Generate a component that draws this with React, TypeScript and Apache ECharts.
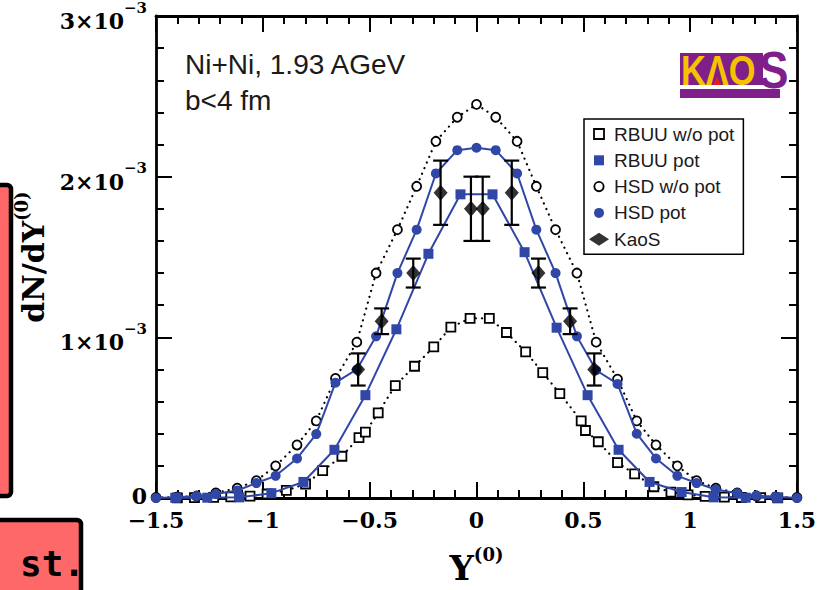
import React, { useEffect, useRef } from 'react';
import * as echarts from 'echarts';

// dN/dY values are in units of 1e-3
const hsdX = [-1.50, -1.40, -1.31, -1.22, -1.12, -1.03, -0.94, -0.84, -0.75, -0.66, -0.56, -0.47, -0.37, -0.28, -0.19, -0.09, 0.00,
  0.09, 0.19, 0.28, 0.37, 0.47, 0.56, 0.66, 0.75, 0.84, 0.94, 1.03, 1.12, 1.22, 1.31, 1.40, 1.50];
const hsdPotY = [0.000, 0.005, 0.012, 0.025, 0.047, 0.093, 0.138, 0.246, 0.398, 0.718, 0.800, 1.006, 1.400, 1.670, 2.020, 2.165, 2.180,
  2.165, 2.020, 1.670, 1.400, 1.006, 0.795, 0.710, 0.400, 0.246, 0.138, 0.093, 0.053, 0.030, 0.015, 0.008, 0.000];
const hsdNoPotY = [0.003, 0.006, 0.012, 0.032, 0.061, 0.108, 0.200, 0.330, 0.480, 0.744, 0.970, 1.400, 1.670, 1.940, 2.220, 2.370, 2.450,
  2.370, 2.220, 1.940, 1.670, 1.400, 0.970, 0.740, 0.480, 0.330, 0.200, 0.108, 0.061, 0.032, 0.012, 0.006, 0.003];

const rbuuPotX = [-1.41, -1.26, -1.11, -0.96, -0.81, -0.665, -0.52, -0.375, -0.225, -0.075, 0.075, 0.225, 0.375, 0.52, 0.665, 0.81, 0.96, 1.11, 1.26, 1.41];
const rbuuPotY = [0.001, 0.002, 0.004, 0.030, 0.100, 0.300, 0.640, 1.050, 1.520, 1.890, 1.890, 1.530, 1.060, 0.640, 0.300, 0.100, 0.037, 0.004, 0.002, 0.001];

const rbuuNoPotX = [-1.40, -1.32, -1.23, -1.15, -1.06, -0.98, -0.89, -0.80, -0.72, -0.63, -0.55, -0.52, -0.46, -0.38, -0.29, -0.20, -0.12, -0.03,
  0.06, 0.14, 0.23, 0.31, 0.39, 0.49, 0.51, 0.57, 0.66, 0.74, 0.83, 0.91, 0.99, 1.07, 1.16, 1.24, 1.33, 1.41];
const rbuuNoPotY = [0.001, 0.002, 0.004, 0.007, 0.012, 0.025, 0.047, 0.087, 0.170, 0.260, 0.376, 0.410, 0.530, 0.700, 0.820, 0.940, 1.063, 1.118,
  1.118, 1.030, 0.910, 0.780, 0.650, 0.480, 0.420, 0.350, 0.220, 0.150, 0.070, 0.037, 0.020, 0.010, 0.006, 0.003, 0.002, 0.001];

const kaosX = [-0.554, -0.444, -0.296, -0.168, -0.026, 0.029, 0.165, 0.290, 0.438, 0.551];
const kaosY = [0.80, 1.10, 1.40, 1.90, 1.80, 1.80, 1.90, 1.40, 1.10, 0.80];
const kaosErr = [0.10, 0.08, 0.09, 0.20, 0.20, 0.20, 0.20, 0.09, 0.08, 0.10];

const xTicks = { min: -1.5, max: 1.5, interval: 0.5 };
const yTicks = { min: 0, max: 3, interval: 1 };

const SERIF = '"DejaVu Serif", "Liberation Serif", serif';
const SANS = '"Liberation Sans", Arial, sans-serif';
const BLUE = '#3047a8';
const PURPLE = '#7e1f8a';
const YELLOW = '#f6c200';

const pairs = (xs: number[], ys: number[]) => xs.map((x, i) => [x, ys[i]]);

export default function App() {
  const ref = useRef<HTMLDivElement>(null);
  useEffect(() => {
    if (!ref.current) return;
    const chart = echarts.init(ref.current, null, { renderer: 'svg' });
    const tickStyle = { color: '#000', width: 2 };
    const axisLine = { show: true, onZero: false, lineStyle: { color: '#000', width: 2.8 } };
    const baseX = {
      type: 'value', ...xTicks,
      axisLine, splitLine: { show: false },
      axisTick: { show: true, inside: true, length: 16, lineStyle: tickStyle },
      minorTick: { show: true, splitNumber: 5, length: 8, lineStyle: tickStyle },
    };
    const baseY = {
      type: 'value', ...yTicks,
      axisLine, splitLine: { show: false },
      axisTick: { show: true, inside: true, length: 16, lineStyle: tickStyle },
      minorTick: { show: true, splitNumber: 5, length: 8, lineStyle: tickStyle },
    };
    const option: any = {
      animation: false,
      grid: { left: 156, right: 24, top: 14, bottom: 84, containLabel: false },
      xAxis: [
        {
          ...baseX, position: 'bottom',
          axisLabel: {
            margin: 11, color: '#000', fontFamily: SERIF, fontWeight: 'bold', fontSize: 22,
            formatter: (v: number) => (v < 0 ? '\u2212' + Math.abs(v) : String(v)),
          },
          name: '{y|Y}{s|(0)}', nameLocation: 'middle', nameGap: 47,
          nameTextStyle: {
            rich: {
              y: { fontFamily: SERIF, fontWeight: 'bold', fontSize: 34, color: '#000', lineHeight: 40, verticalAlign: 'bottom' },
              s: { fontFamily: SERIF, fontWeight: 'bold', fontSize: 18, color: '#000', lineHeight: 18, verticalAlign: 'top' },
            },
          },
        },
        { ...baseX, position: 'top', axisLabel: { show: false } },
      ],
      yAxis: [
        {
          ...baseY, position: 'left',
          axisLabel: {
            margin: 9,
            formatter: (v: number) => (v === 0 ? '{z|0}' : `{a|${v}\u00d710}{b|\u22123}`),
            rich: {
              z: { fontFamily: SERIF, fontWeight: 'bold', fontSize: 22, color: '#000', lineHeight: 18, padding: [0, 0, 5, 0] },
              a: { fontFamily: SERIF, fontWeight: 'bold', fontSize: 22, color: '#000', lineHeight: 32, verticalAlign: 'bottom' },
              b: { fontFamily: SERIF, fontWeight: 'bold', fontSize: 15, color: '#000', lineHeight: 15, verticalAlign: 'top' },
            },
          },
          name: '{y|dN/dY}{s|(0)}', nameLocation: 'middle', nameRotate: 90, nameGap: 98,
          nameTextStyle: {
            rich: {
              y: { fontFamily: SERIF, fontWeight: 'bold', fontSize: 30, color: '#000', lineHeight: 36, verticalAlign: 'bottom' },
              s: { fontFamily: SERIF, fontWeight: 'bold', fontSize: 18, color: '#000', lineHeight: 18, verticalAlign: 'top' },
            },
          },
        },
        { ...baseY, position: 'right', axisLabel: { show: false } },
      ],
      legend: {
        orient: 'vertical', left: 584, top: 119,
        padding: [5, 9, 5, 5],
        itemWidth: 20, itemHeight: 13, itemGap: 6.3,
        borderColor: '#000', borderWidth: 1.5, borderRadius: 0, backgroundColor: '#fff',
        textStyle: { fontFamily: SANS, fontSize: 19, color: '#1a1a1a', lineHeight: 20 },
        data: [
          { name: 'RBUU w/o pot', icon: 'path://M-1.5,-1.5M11.5,11.5M0,0L10,0L10,10L0,10Z', itemStyle: { color: '#fff', borderColor: '#000', borderWidth: 1.8 } },
          { name: 'RBUU pot', icon: 'path://M-1.5,-1.5M11.5,11.5M0,0L10,0L10,10L0,10Z', itemStyle: { color: BLUE, borderWidth: 0 } },
          { name: 'HSD w/o pot', icon: 'path://M-2,-2M12,12M10,5A5,5,0,1,1,0,5A5,5,0,1,1,10,5Z', itemStyle: { color: '#fff', borderColor: '#000', borderWidth: 1.8 } },
          { name: 'HSD pot', icon: 'path://M-1.5,-1.5M11.5,11.5M10,5A5,5,0,1,1,0,5A5,5,0,1,1,10,5Z', itemStyle: { color: BLUE, borderWidth: 0 } },
          { name: 'KaoS', icon: 'diamond', itemStyle: { color: '#000', borderWidth: 0 } },
        ],
      },
      series: [
        {
          name: 'RBUU w/o pot', type: 'line', z: 2,
          data: pairs(rbuuNoPotX, rbuuNoPotY),
          symbol: 'rect', symbolSize: 9,
          itemStyle: { color: '#fff', borderColor: '#000', borderWidth: 1.8 },
          lineStyle: { color: '#000', width: 2.2, type: [0.1, 6], cap: 'round' },
        },
        {
          name: 'HSD w/o pot', type: 'line', z: 2,
          data: pairs(hsdX, hsdNoPotY),
          symbol: 'circle', symbolSize: 9,
          itemStyle: { color: '#fff', borderColor: '#000', borderWidth: 1.8 },
          lineStyle: { color: '#000', width: 2.2, type: [0.1, 6], cap: 'round' },
        },
        {
          name: 'RBUU pot', type: 'line', z: 3,
          data: pairs(rbuuPotX, rbuuPotY),
          symbol: 'rect', symbolSize: 10,
          itemStyle: { color: BLUE },
          lineStyle: { color: BLUE, width: 2 },
        },
        {
          name: 'HSD pot', type: 'line', z: 3,
          data: pairs(hsdX, hsdPotY),
          symbol: 'circle', symbolSize: 10,
          itemStyle: { color: BLUE },
          lineStyle: { color: BLUE, width: 2 },
        },
        {
          name: 'KaoS errors', type: 'custom', z: 4,
          data: kaosX.map((x, i) => [x, kaosY[i] - kaosErr[i], kaosY[i] + kaosErr[i]]),
          encode: { x: 0, y: [1, 2] },
          renderItem: (params: any, api: any) => {
            const x = api.value(0);
            const lo = api.coord([x, api.value(1)]);
            const hi = api.coord([x, api.value(2)]);
            const w = 7.5;
            const st = { stroke: '#000', lineWidth: 2.2 };
            return {
              type: 'group',
              children: [
                { type: 'line', shape: { x1: lo[0], y1: lo[1], x2: hi[0], y2: hi[1] }, style: st },
                { type: 'line', shape: { x1: lo[0] - w, y1: lo[1], x2: lo[0] + w, y2: lo[1] }, style: st },
                { type: 'line', shape: { x1: hi[0] - w, y1: hi[1], x2: hi[0] + w, y2: hi[1] }, style: st },
              ],
            };
          },
        },
        {
          name: 'KaoS', type: 'scatter', z: 5,
          data: pairs(kaosX, kaosY),
          symbol: 'diamond', symbolSize: [14, 16],
          itemStyle: { color: '#000' },
        },
      ],
      graphic: [
        { type: 'rect', shape: { x: -20, y: 185, width: 31, height: 311, r: 4 }, style: { fill: '#ff6868', stroke: '#000', lineWidth: 4.5 } },
        { type: 'rect', shape: { x: -20, y: 520, width: 101, height: 120, r: 4 }, style: { fill: '#ff6868', stroke: '#000', lineWidth: 4.5 } },
        { type: 'text', x: 20, y: 563, style: { text: 'st.', fill: '#000', font: 'bold 36px "DejaVu Sans Mono", monospace', verticalAlign: 'middle' } },
        { type: 'text', x: 185, y: 64, style: { text: 'Ni+Ni, 1.93 AGeV', fill: '#1a1a1a', font: `28px ${SANS}`, verticalAlign: 'middle' } },
        { type: 'text', x: 185, y: 100, style: { text: 'b<4 fm', fill: '#1a1a1a', font: `28px ${SANS}`, verticalAlign: 'middle' } },
        // KaoS logo
        { type: 'rect', shape: { x: 680, y: 53, width: 83, height: 32 }, style: { fill: PURPLE } },
        { type: 'text', x: 681, y: 70, scaleX: 0.82, style: { text: 'K\u039bO', fill: YELLOW, font: `bold 42px ${SANS}`, verticalAlign: 'middle' } },
        { type: 'polygon', shape: { points: [[713, 85], [717, 76], [721, 85]] }, style: { fill: '#e0201b' } },
        { type: 'text', x: 759, y: 70, scaleX: 0.85, style: { text: 'S', fill: PURPLE, font: `bold 52px ${SANS}`, verticalAlign: 'middle' } },
        { type: 'rect', shape: { x: 680, y: 89, width: 100, height: 9 }, style: { fill: PURPLE } },
      ],
    };
    chart.setOption(option);
    return () => chart.dispose();
  }, []);
  return <div ref={ref} style={{ position: 'fixed', left: 0, top: 0, width: 821, height: 590, background: '#fff' }} />;
}
